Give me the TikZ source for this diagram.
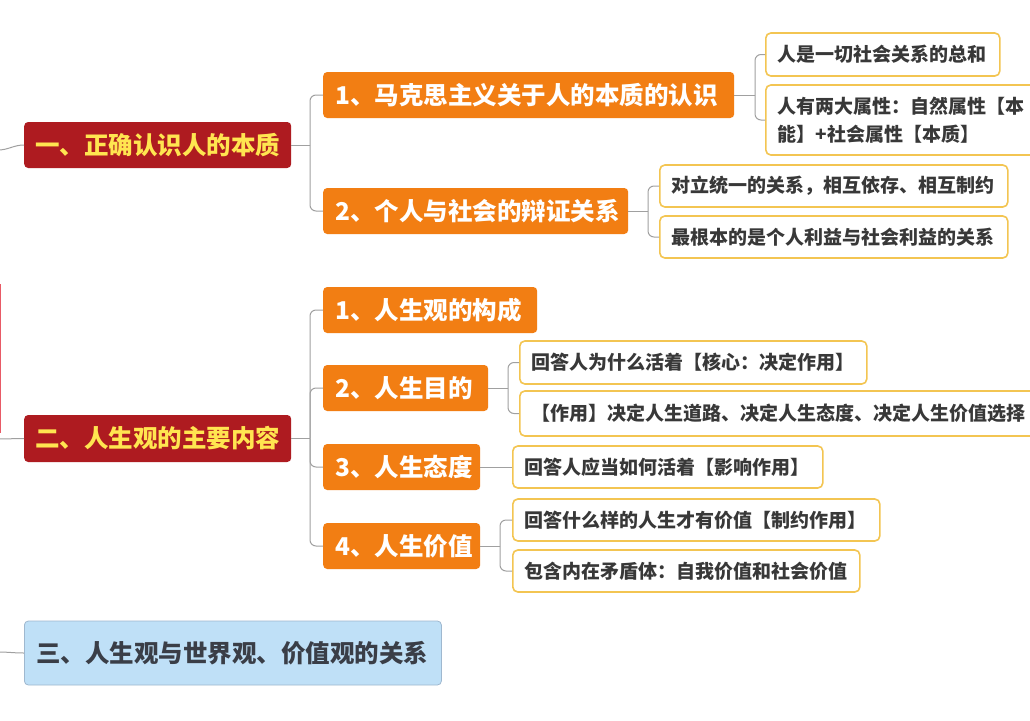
\documentclass[tikz,border=0pt]{standalone}
\usepackage{fontspec}
\newfontfamily\cjk{Noto Sans CJK SC}
\definecolor{topred}{HTML}{AE1B20}
\definecolor{topyellow}{HTML}{FFE550}
\definecolor{orng}{HTML}{F27E13}
\definecolor{leafborder}{HTML}{F3C552}
\definecolor{leaftext}{HTML}{383838}
\definecolor{linegray}{HTML}{A0A0A0}
\definecolor{bluefill}{HTML}{BFE0F7}
\definecolor{blueborder}{HTML}{9FB8CF}
\definecolor{bluetext}{HTML}{3A3E47}
\definecolor{edgered}{HTML}{E85A66}
\begin{document}
\begin{tikzpicture}[x=1pt,y=-1pt,
  bigfont/.style={font=\cjk\bfseries\fontsize{24.5}{30}\selectfont},
  smallfont/.style={font=\cjk\bfseries\fontsize{19}{28}\selectfont},
  topbox/.style={bigfont, fill=topred, text=topyellow, rounded corners=4pt, anchor=west,
    inner xsep=11pt, inner ysep=0pt, minimum height=46pt, align=left},
  subbox/.style={bigfont, fill=orng, text=white, rounded corners=4pt, anchor=west,
    inner xsep=12pt, inner ysep=0pt, minimum height=46pt, align=left},
  bluebox/.style={bigfont, fill=bluefill, draw=blueborder, line width=0.8pt, text=bluetext,
    rounded corners=4pt, anchor=west, inner xsep=12pt, inner ysep=0pt, minimum height=64pt, align=left},
  leafbox/.style={smallfont, fill=white, draw=leafborder, line width=1.6pt, text=leaftext,
    rounded corners=5pt, anchor=west, inner xsep=12pt, inner ysep=0pt, minimum height=42pt, align=left},
  conn/.style={draw=linegray, line width=1pt, rounded corners=6pt}
]
\useasboundingbox (0,0) rectangle (1030,720);
\clip (0,0) rectangle (1030,720);
\fill[white] (0,0) rectangle (1030,720);

% level 1
\node[topbox, text width=245pt] (A1) at (24,145) {一、正确认识人的本质};
\node[topbox, text width=245pt, minimum height=47pt] (A2) at (24,438.5) {二、人生观的主要内容};
\node[bluebox, text width=393pt] (A3) at (24,653) {三、人生观与世界观、价值观的关系};

% level 2
\node[subbox, text width=387pt] (B1) at (323,95) {1、马克思主义关于人的本质的认识};
\node[subbox, text width=281pt] (B2) at (323,211) {2、个人与社会的辩证关系};
\node[subbox, text width=190pt] (B3) at (323,310) {1、人生观的构成};
\node[subbox, text width=141pt] (B4) at (323,388) {2、人生目的};
\node[subbox, text width=133pt] (B5) at (323,467) {3、人生态度};
\node[subbox, text width=133pt] (B6) at (323,546) {4、人生价值};

% leaves
\node[leafbox, text width=210pt, minimum height=43pt] (C1) at (765,54.5) {人是一切社会关系的总和};
\node[leafbox, text width=266pt, minimum height=70pt] (C2) at (765,120) {人有两大属性：自然属性【本\\能】+社会属性【本质】};
\node[leafbox, text width=324pt] (C3) at (659,186) {对立统一的关系，相互依存、相互制约};
\node[leafbox, text width=324pt] (C4) at (659,237) {最根本的是个人利益与社会利益的关系};
\node[leafbox, text width=323pt, minimum height=43pt] (C5) at (519,362.5) {回答人为什么活着【核心：决定作用】};
\node[leafbox, text width=506pt, minimum height=45pt] (C6) at (519,413.5) {【作用】决定人生道路、决定人生态度、决定人生价值选择};
\node[leafbox, text width=286pt] (C7) at (512,467) {回答人应当如何活着【影响作用】};
\node[leafbox, text width=343pt] (C8) at (512,520) {回答什么样的人生才有价值【制约作用】};
\node[leafbox, text width=323pt] (C9) at (512,571) {包含内在矛盾体：自我价值和社会价值};

% incoming lines from the left edge
\coordinate (L1) at (-2,150);
\coordinate (L2) at (-2,439);
\coordinate (L3) at (-2,652);
\draw[conn] (L1) to[out=0,in=180] (A1.west);
\draw[conn] (L2) -- (A2.west);
\draw[conn] (L3) to[out=0,in=180] (A3.west);
\draw[edgered, line width=1.2pt] (0.8,284) -- (0.8,433);

% junctions
\coordinate (jA1) at (310,145);
\coordinate (jA2) at (310,438.5);
\coordinate (jB1) at (755,95);
\coordinate (jB2) at (648,211);
\coordinate (jB4) at (508,388);
\coordinate (jB6) at (500,546);

\draw[conn] (A1.east) -- (jA1);
\draw[conn] (jA1) |- (B1.west);
\draw[conn] (jA1) |- (B2.west);

\draw[conn] (A2.east) -- (jA2);
\draw[conn] (jA2) |- (B3.west);
\draw[conn] (jA2) |- (B4.west);
\draw[conn] (jA2) |- (B5.west);
\draw[conn] (jA2) |- (B6.west);

\draw[conn] (B1.east) -- (jB1);
\draw[conn] (jB1) |- (C1.west);
\draw[conn] (jB1) |- (C2.west);

\draw[conn] (B2.east) -- (jB2);
\draw[conn] (jB2) |- (C3.west);
\draw[conn] (jB2) |- (C4.west);

\draw[conn] (B4.east) -- (jB4);
\draw[conn] (jB4) |- (C5.west);
\draw[conn] (jB4) |- (C6.west);

\draw[conn] (B5.east) -- (C7.west);

\draw[conn] (B6.east) -- (jB6);
\draw[conn] (jB6) |- (C8.west);
\draw[conn] (jB6) |- (C9.west);
\end{tikzpicture}
\end{document}
